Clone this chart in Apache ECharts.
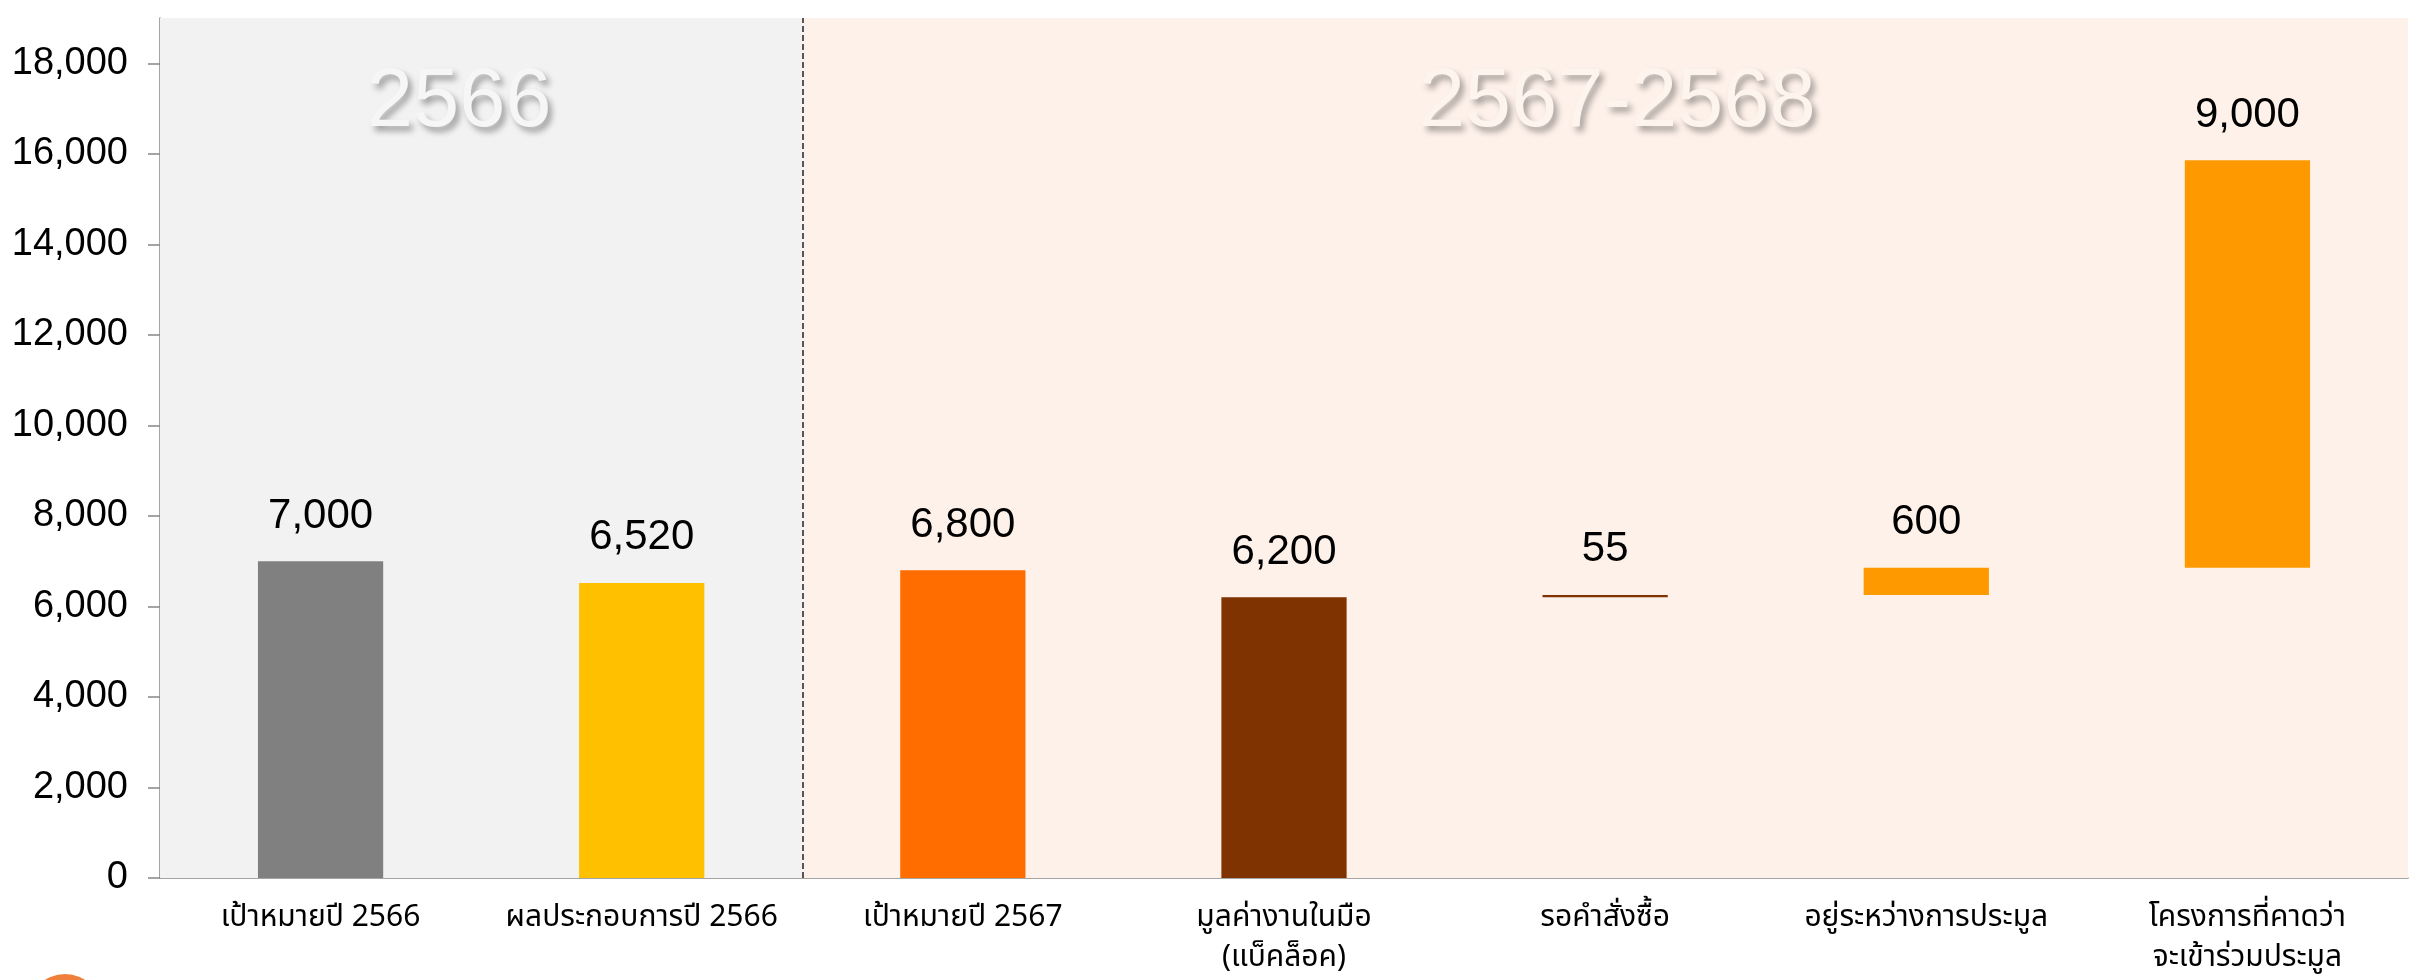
<!DOCTYPE html>
<html>
<head>
<meta charset="utf-8">
<title>chart</title>
<script src="https://cdn.jsdelivr.net/npm/echarts@6/dist/echarts.min.js"></script>
<style>
  html, body { margin: 0; padding: 0; background: #fff; }
  #chart { width: 2417px; height: 980px; }
</style>
</head>
<body>
<div id="chart"></div>
<script>
// ข้อมูล
const categories = [
  "เป้าหมายปี 2566",
  "ผลประกอบการปี 2566",
  "เป้าหมายปี 2567",
  "มูลค่างานในมือ\n(แบ็คล็อค)",
  "รอคำสั่งซื้อ",
  "อยู่ระหว่างการประมูล",
  "โครงการที่คาดว่า\nจะเข้าร่วมประมูล"
];
const values = [7000, 6520, 6800, 6200, 55, 600, 9000];
// ฐานของแท่ง waterfall (ส่วนที่ซ่อน)
const bases = [0, 0, 0, 0, 6200, 6255, 6855];
const yTicks = [0, 2000, 4000, 6000, 8000, 10000, 12000, 14000, 16000, 18000];
const periodLabels = ["2566", "2567-2568"];
// ช่วงของแต่ละปี (นับเป็นจำนวนหมวด)
const periodSpans = [[0, 2], [2, 7]];

const barColors = ["#808080", "#FFC000", "#FF6D00", "#7F3300", "#7F3300", "#FF9900", "#FF9900"];
const font = "Liberation Sans, Arial, sans-serif";

function fmt(v) {
  return String(v).replace(/\B(?=(\d{3})+(?!\d))/g, ",");
}

const chart = echarts.init(document.getElementById("chart"));

const option = {
  animation: false,
  textStyle: { fontFamily: font },
  grid: { left: 160, right: 9, top: 18, bottom: 97 },
  xAxis: [
    {
      type: "category",
      data: categories,
      axisLine: { lineStyle: { color: "#868686", width: 1.5 } },
      axisTick: { length: 12, interval: 0, lineStyle: { color: "#868686", width: 1.5 } },
      axisLabel: {
        interval: 0,
        color: "#000",
        fontSize: 30,
        lineHeight: 40,
        margin: 22,
        fontFamily: "Noto Sans Thai, Loma, Garuda, Tlwg Typo, Liberation Sans, sans-serif"
      }
    },
    {
      // แกนซ่อนสำหรับพื้นหลังแต่ละช่วงปี
      type: "value",
      min: 0,
      max: 7,
      show: false
    }
  ],
  yAxis: {
    type: "value",
    min: 0,
    max: 19000,
    interval: 2000,
    splitLine: { show: false },
    axisLine: { show: true, lineStyle: { color: "#868686", width: 1.5 } },
    axisTick: { show: true, length: 12, customValues: yTicks, lineStyle: { color: "#868686", width: 1.5 } },
    axisLabel: {
      customValues: yTicks,
      color: "#000",
      fontSize: 38,
      margin: 32,
      formatter: fmt
    }
  },
  series: [
    {
      name: "bg",
      type: "scatter",
      xAxisIndex: 1,
      symbolSize: 0,
      silent: true,
      z: 0,
      data: [],
      markArea: {
        silent: true,
        data: periodSpans.map(function (s, i) {
          return [
            {
              xAxis: s[0],
              yAxis: 0,
              itemStyle: { color: i === 0 ? "#F2F2F2" : "#FEF1EA" },
              label: {
                show: true,
                position: "insideTop",
                distance: 44,
                offset: [i === 0 ? -22 : 12, 0],
                formatter: periodLabels[i],
                fontSize: 83,
                lineHeight: 83,
                fontFamily: font,
                color: i === 0 ? "#F6F6F6" : "#FEF4EE",
                textShadowColor: "rgba(0,0,0,0.35)",
                textShadowBlur: 6,
                textShadowOffsetX: 4,
                textShadowOffsetY: 5
              }
            },
            { xAxis: s[1], yAxis: 19000 }
          ];
        })
      },
      markLine: {
        silent: true,
        symbol: "none",
        label: { show: false },
        lineStyle: { color: "#222", type: "dashed", width: 1.5 },
        data: [[{ xAxis: periodSpans[1][0], yAxis: 0 }, { xAxis: periodSpans[1][0], yAxis: 19000 }]]
      }
    },
    {
      name: "base",
      type: "bar",
      stack: "total",
      barWidth: "39%",
      silent: true,
      itemStyle: { color: "transparent" },
      data: bases
    },
    {
      name: "value",
      type: "bar",
      stack: "total",
      barWidth: "39%",
      data: values.map(function (v, i) {
        return { value: v, itemStyle: { color: barColors[i] } };
      }),
      label: {
        show: true,
        position: "top",
        distance: 24,
        color: "#000",
        fontSize: 42,
        formatter: function (p) { return fmt(p.value); }
      }
    }
  ],
  graphic: [
    {
      // โลโก้วงกลมมุมล่างซ้าย (ถูกตัด)
      type: "circle",
      shape: { cx: 65, cy: 1012, r: 38 },
      style: { fill: "#F07F3C" },
      silent: true
    }
  ]
};

chart.setOption(option);
</script>
</body>
</html>
